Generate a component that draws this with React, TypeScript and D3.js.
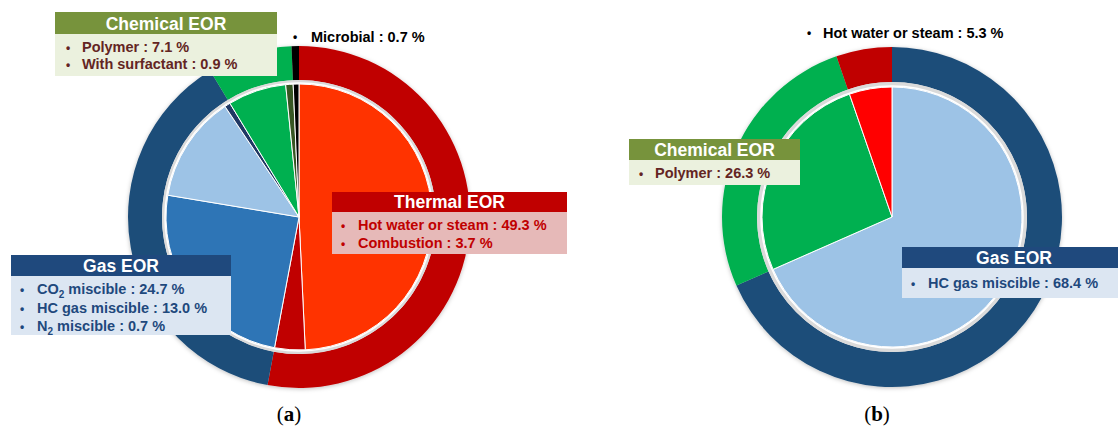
import * as d3 from "d3";

// ---- data (a) ----
const innerLabelsA = ["Hot water or steam", "Combustion", "CO2 miscible", "HC gas miscible", "N2 miscible", "Polymer", "With surfactant", "Microbial"];
const innerValuesA = [49.3, 3.7, 24.7, 13.0, 0.7, 7.1, 0.9, 0.7];
const outerLabelsA = ["Thermal EOR", "Gas EOR", "Chemical EOR", "Microbial"];
const outerValuesA = [53.0, 38.4, 8.0, 0.7];

// ---- data (b) ----
const innerLabelsB = ["HC gas miscible", "Polymer", "Hot water or steam"];
const innerValuesB = [68.4, 26.3, 5.3];
const outerLabelsB = ["Gas EOR", "Chemical EOR", "Thermal EOR"];
const outerValuesB = [68.4, 26.3, 5.3];

// colours
const innerColorsA = ["#FF3300", "#C00000", "#2E75B6", "#9DC3E6", "#203864", "#00B050", "#375623", "#000000"];
const outerColorsA = ["#C00000", "#1F4E79", "#00B050", "#000000"];
const innerColorsB = ["#9DC3E6", "#00B050", "#FF0000"];
const outerColorsB = ["#1F4E79", "#00B050", "#C00000"];

const FONT = "'Liberation Sans', Arial, sans-serif";

type Ring = { labels: string[]; values: number[]; colors: string[] };

function Donut(props: { cx: number; cy: number; rIn: number; rGap: number; rOut: number; inner: Ring; outer: Ring }) {
  const { cx, cy, rIn, rGap, rOut, inner, outer } = props;
  const pie = d3.pie<number>().sort(null).value(d => d);
  const innerArcs = pie(inner.values);
  const outerArcs = pie(outer.values);
  const arcIn = d3.arc<d3.PieArcDatum<number>>().innerRadius(0).outerRadius(rIn);
  const arcOut = d3.arc<d3.PieArcDatum<number>>().innerRadius(rGap).outerRadius(rOut);
  return (
    <g transform={`translate(${cx},${cy})`}>
      <g filter="url(#shadow)">
        {outerArcs.map((a, i) => (
          <path key={outer.labels[i]} d={arcOut(a) || ""} fill={outer.colors[i]} />
        ))}
      </g>
      <circle r={(rIn + rGap) / 2} fill="none" stroke="#DADADA" strokeWidth={rGap - rIn} />
      <circle r={rIn + 1} fill="none" stroke="#fff" strokeWidth={1.5} />
      {innerArcs.map((a, i) => (
        <path key={inner.labels[i]} d={arcIn(a) || ""} fill={inner.colors[i]} stroke="#fff" strokeWidth={1} />
      ))}
    </g>
  );
}

type Line = { text: string; sub?: string; rest?: string };

function Box(props: {
  x: number; y: number; w: number; hh: number; bh: number; title: string; head: string; body: string; color: string;
  lines: Line[]; bulletX: number; textX: number; lineY: number[]; titleX: number;
}) {
  const p = props;
  return (
    <g fontFamily={FONT} fontWeight="bold">
      <rect x={p.x} y={p.y} width={p.w} height={p.hh} fill={p.head} />
      <rect x={p.x} y={p.y + p.hh} width={p.w} height={p.bh} fill={p.body} />
      <text x={p.titleX} y={p.y + p.hh - 4.5} textAnchor="middle" fill="#fff" fontSize={17.5}>{p.title}</text>
      {p.lines.map((l, i) => (
        <g key={i} fill={p.color} fontSize={14.5}>
          <text x={p.bulletX} y={p.lineY[i]} fontSize={12}>•</text>
          <text x={p.textX} y={p.lineY[i]}>
            {l.text}
            {l.sub ? <tspan fontSize={10} dy={4}>{l.sub}</tspan> : null}
            {l.rest ? <tspan dy={l.sub ? -4 : 0}>{l.rest}</tspan> : null}
          </text>
        </g>
      ))}
    </g>
  );
}

export default function App() {
  return (
    <svg width={1120} height={427} style={{ position: "absolute", left: 0, top: 0, background: "#fff" }}>
      <defs>
        <filter id="shadow" x="-20%" y="-20%" width="140%" height="140%">
          <feDropShadow dx={0} dy={1} stdDeviation={2} floodColor="#000" floodOpacity={0.25} />
        </filter>
      </defs>

      <Donut cx={299} cy={217} rIn={133} rGap={137} rOut={171}
        inner={{ labels: innerLabelsA, values: innerValuesA, colors: innerColorsA }}
        outer={{ labels: outerLabelsA, values: outerValuesA, colors: outerColorsA }} />
      <Donut cx={892} cy={217} rIn={130} rGap={135} rOut={170}
        inner={{ labels: innerLabelsB, values: innerValuesB, colors: innerColorsB }}
        outer={{ labels: outerLabelsB, values: outerValuesB, colors: outerColorsB }} />

      {/* (a) labels */}
      <Box x={55} y={12} w={222} hh={22} bh={42} title="Chemical EOR" head="#77933C" body="#EBF1DE" color="#632523"
        titleX={166} bulletX={66} textX={82} lineY={[52, 69]}
        lines={[{ text: "Polymer : 7.1 %" }, { text: "With surfactant : 0.9 %" }]} />
      <g fontFamily={FONT} fontWeight="bold" fill="#000">
        <text x={293} y={41} fontSize={12}>•</text>
        <text x={311} y={42} fontSize={14.5}>Microbial : 0.7 %</text>
      </g>
      <Box x={332} y={192} w={235} hh={20} bh={42} title="Thermal EOR" head="#C00000" body="#E6B9B8" color="#C00000"
        titleX={449.5} bulletX={341} textX={358} lineY={[230, 248]}
        lines={[{ text: "Hot water or steam : 49.3 %" }, { text: "Combustion : 3.7 %" }]} />
      <Box x={11} y={255} w={220} hh={21} bh={59} title="Gas EOR" head="#1F497D" body="#DCE6F2" color="#1F497D"
        titleX={121} bulletX={20} textX={37} lineY={[294, 313, 331]}
        lines={[
          { text: "CO", sub: "2", rest: " miscible : 24.7 %" },
          { text: "HC gas miscible : 13.0 %" },
          { text: "N", sub: "2", rest: " miscible : 0.7 %" },
        ]} />

      {/* (b) labels */}
      <g fontFamily={FONT} fontWeight="bold" fill="#000">
        <text x={807} y={37} fontSize={12}>•</text>
        <text x={823} y={38} fontSize={14.5}>Hot water or steam : 5.3 %</text>
      </g>
      <Box x={629} y={139} w={171} hh={21} bh={25} title="Chemical EOR" head="#77933C" body="#EBF1DE" color="#632523"
        titleX={714.5} bulletX={639} textX={655} lineY={[178]}
        lines={[{ text: "Polymer : 26.3 %" }]} />
      <Box x={902} y={247} w={216} hh={21} bh={30} title="Gas EOR" head="#1F497D" body="#DCE6F2" color="#1F497D"
        titleX={1014} bulletX={911} textX={928} lineY={[288]}
        lines={[{ text: "HC gas miscible : 68.4 %" }]} />

      {/* captions */}
      <g fontFamily="'Liberation Serif', 'Times New Roman', serif" fontSize={21} fill="#000">
        <text x={289} y={421} textAnchor="middle">(<tspan fontWeight="bold">a</tspan>)</text>
        <text x={877} y={421} textAnchor="middle">(<tspan fontWeight="bold">b</tspan>)</text>
      </g>
    </svg>
  );
}
